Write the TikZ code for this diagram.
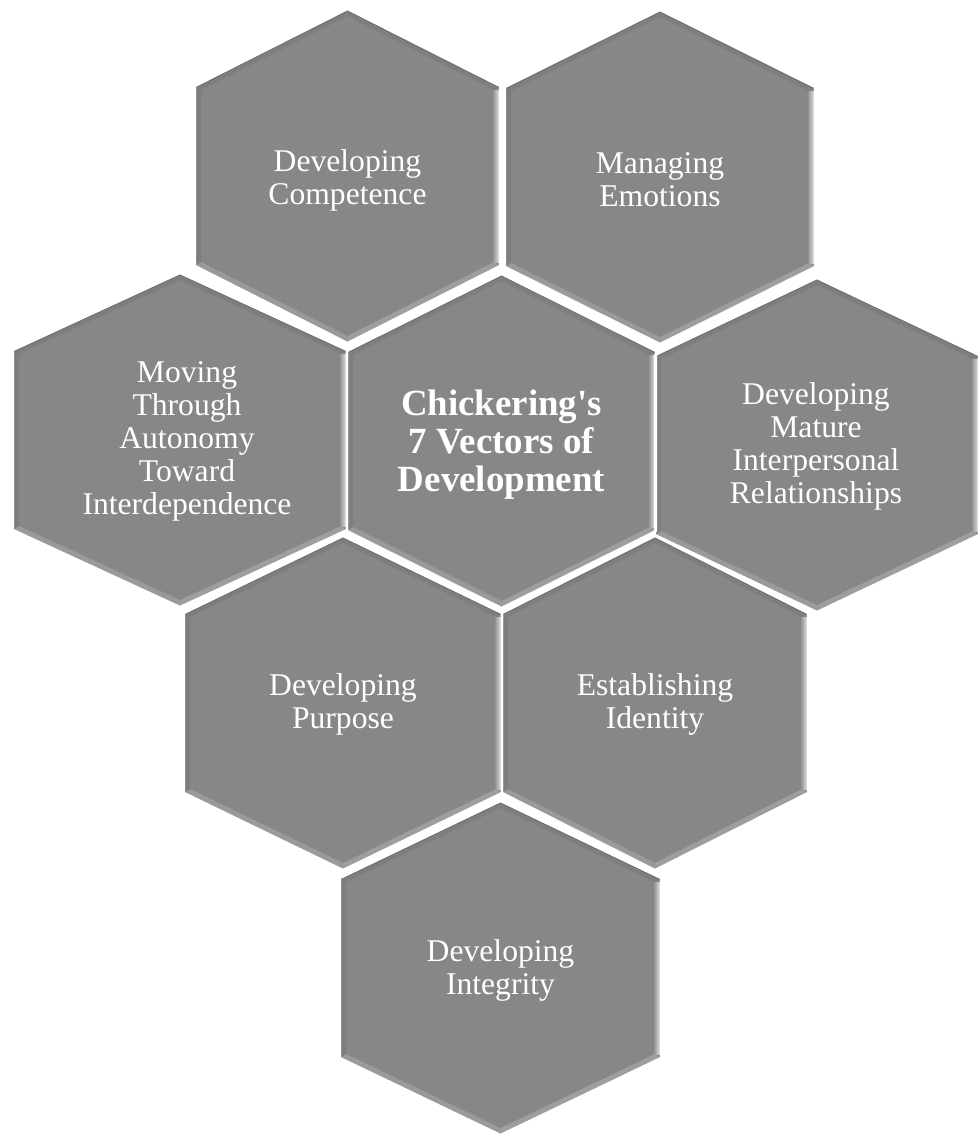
\documentclass[tikz,border=0pt]{standalone}
\usepackage{fontspec}
\setmainfont{Liberation Serif}
\usetikzlibrary{positioning}

\definecolor{hexfill}{RGB}{135,135,135}
\definecolor{hexdark}{RGB}{112,112,112}
\definecolor{hexshade}{RGB}{126,126,126}
\definecolor{hexlight}{RGB}{158,158,158}
\definecolor{hexglow}{RGB}{238,238,238}

\begin{document}
\begin{tikzpicture}[x=0.03cm,y=-0.03cm,
	celltext/.style={text=white,align=center,font=\fontsize{27}{28.2}\selectfont},
	hubtext/.style={text=white,align=center,font=\bfseries\fontsize{31.5}{32.4}\selectfont}]
	\useasboundingbox (0,0) rectangle (979,1137);
	
	% 八个六边形：中心x/中心y/半宽（上下顶点距中心167，竖边端点距中心90）
	\foreach \cx/\cy/\w in {347.5/176/152.5, 660/177/155, 180/440/167, 501.5/441/154.5,
		817/445/162, 343/703/159, 655/703/153, 500.5/968/160.5}
	{
		\fill[hexfill] (\cx,\cy-167) -- (\cx+\w,\cy-90) -- (\cx+\w,\cy+90) -- (\cx,\cy+167)
			-- (\cx-\w,\cy+90) -- (\cx-\w,\cy-90) -- cycle;
		% 斜面：左上、右上两边偏暗
		\fill[hexshade] (\cx-\w,\cy-90) -- (\cx,\cy-167) -- (\cx,\cy-160) -- (\cx-\w+6,\cy-86) -- cycle;
		\fill[hexshade] (\cx,\cy-167) -- (\cx+\w,\cy-90) -- (\cx+\w-6,\cy-86) -- (\cx,\cy-160) -- cycle;
		% 左边偏暗，右边高光
		\fill[hexshade] (\cx-\w,\cy-90) -- (\cx-\w+6,\cy-86) -- (\cx-\w+6,\cy+86) -- (\cx-\w,\cy+90) -- cycle;
		\shade[left color=hexfill,right color=hexglow] (\cx+\w-8,\cy-86) rectangle (\cx+\w,\cy+86);
		% 下面两边偏亮
		\fill[hexlight] (\cx+\w,\cy+90) -- (\cx,\cy+167) -- (\cx,\cy+160) -- (\cx+\w-6,\cy+86) -- cycle;
		\fill[hexlight!80!hexfill] (\cx,\cy+167) -- (\cx-\w,\cy+90) -- (\cx-\w+6,\cy+86) -- (\cx,\cy+160) -- cycle;
		% 上边的细暗线
		\draw[hexdark,line width=0.8pt] (\cx-\w,\cy-88) -- (\cx,\cy-165) -- (\cx+\w,\cy-88);
	}
	
	% 六边形之间的白色缝隙
	\foreach \cx/\cy/\w in {347.5/176/152.5, 660/177/155, 180/440/167, 501.5/441/154.5,
		817/445/162, 343/703/159, 655/703/153, 500.5/968/160.5}
	\draw[white,line width=2pt,line join=round] (\cx,\cy-167) -- (\cx+\w,\cy-90) -- (\cx+\w,\cy+90)
		-- (\cx,\cy+167) -- (\cx-\w,\cy+90) -- (\cx-\w,\cy-90) -- cycle;
	
	% 文字
	\node[celltext] (competence) at (347.5,180) {Developing\\Competence};
	\node[celltext] (emotions) at (660,180) {Managing\\Emotions};
	\node[celltext] (autonomy) at (187,441) {Moving\\Through\\Autonomy\\Toward\\Interdependence};
	\node[hubtext] (hub) at (501.5,445) {Chickering\textquotesingle s\\7 Vectors of\\Development};
	\node[celltext] (relations) at (816,446) {Developing\\Mature\\Interpersonal\\Relationships};
	\node[celltext] (purpose) at (343,704) {Developing\\Purpose};
	\node[celltext] (identity) at (655,704) {Establishing\\Identity};
	\node[celltext] (integrity) at (500.5,970) {Developing\\Integrity};
\end{tikzpicture}
\end{document}
